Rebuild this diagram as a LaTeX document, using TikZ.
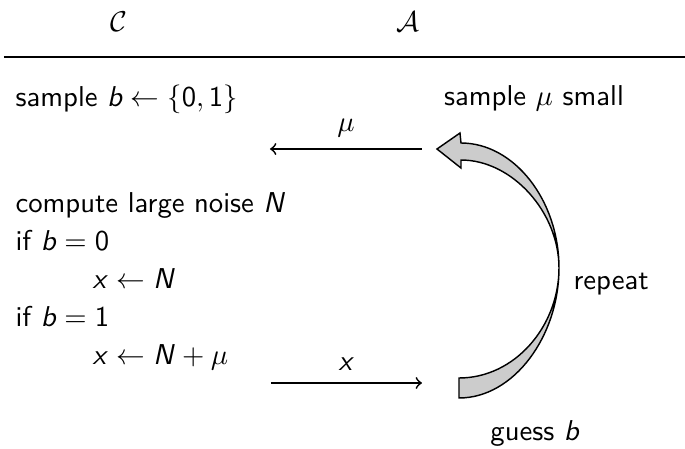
\documentclass[tikz,border=0pt]{standalone}
\DeclareMathAlphabet{\mathsfit}{OT1}{cmss}{m}{sl}
\newcommand{\vb}{\mathsfit{b}}
\newcommand{\vx}{\mathsfit{x}}
\newcommand{\vN}{\mathsfit{N}}
\begin{document}
\begin{tikzpicture}[x=0.3484pt,y=-0.3484pt,
  txt/.style={inner sep=0pt, font=\sffamily, anchor=base west},
  ctxt/.style={inner sep=0pt, font=\sffamily, anchor=base},
  msg/.style={->, line width=0.6pt},
  loopband/.style={fill=gray!40, draw=black, line width=0.5pt, line join=miter}]
\useasboundingbox (0,0) rectangle (685,449);
% headers
\node[ctxt] (hc) at (119,31) {$\mathcal{C}$};
\node[ctxt] (ha) at (408,31) {$\mathcal{A}$};
\coordinate (ruleL) at (4,57);
\coordinate (ruleR) at (685,57);
\draw[line width=1pt] (ruleL) -- (ruleR);
% challenger
\node[txt] (c1) at (15,106) {sample $\vb \leftarrow \{\mathsf{0},\mathsf{1}\}$};
\node[txt] (c2) at (15,212) {compute large noise $\vN$};
\node[txt] (c3) at (15,250) {if $\vb = \mathsf{0}$};
\node[txt] (c4) at (92,288) {$\vx \leftarrow \vN$};
\node[txt] (c5) at (15,326) {if $\vb = \mathsf{1}$};
\node[txt] (c6) at (92,364) {$\vx \leftarrow \vN + \mu$};
% adversary
\node[ctxt] (a1) at (534,105) {sample $\mu$ small};
\node[txt] (a2) at (573,289) {repeat};
\node[ctxt] (a3) at (535,441) {guess $\vb$};
% messages
\coordinate (muR) at (422,149);
\coordinate (muL) at (270,149);
\draw[msg] (muR) -- (muL) node[midway, above=4pt, inner sep=0pt] (lmu) {$\mu$};
\coordinate (xL) at (271,383);
\coordinate (xR) at (422,383);
\draw[msg] (xL) -- (xR) node[midway, above=4pt, inner sep=0pt] (lx) {$\vx$};
% repeat loop arrow
\draw[loopband] (459,398) .. controls (514,398) and (559,336) .. (559,268)
  .. controls (559,212) and (512,160) .. (461,160)
  -- (461,168) -- (437,149) -- (460,133) -- (461,143)
  .. controls (514,143) and (559,200) .. (559,268)
  .. controls (559,326) and (515,378) .. (459,378) -- cycle;
\end{tikzpicture}
\end{document}
